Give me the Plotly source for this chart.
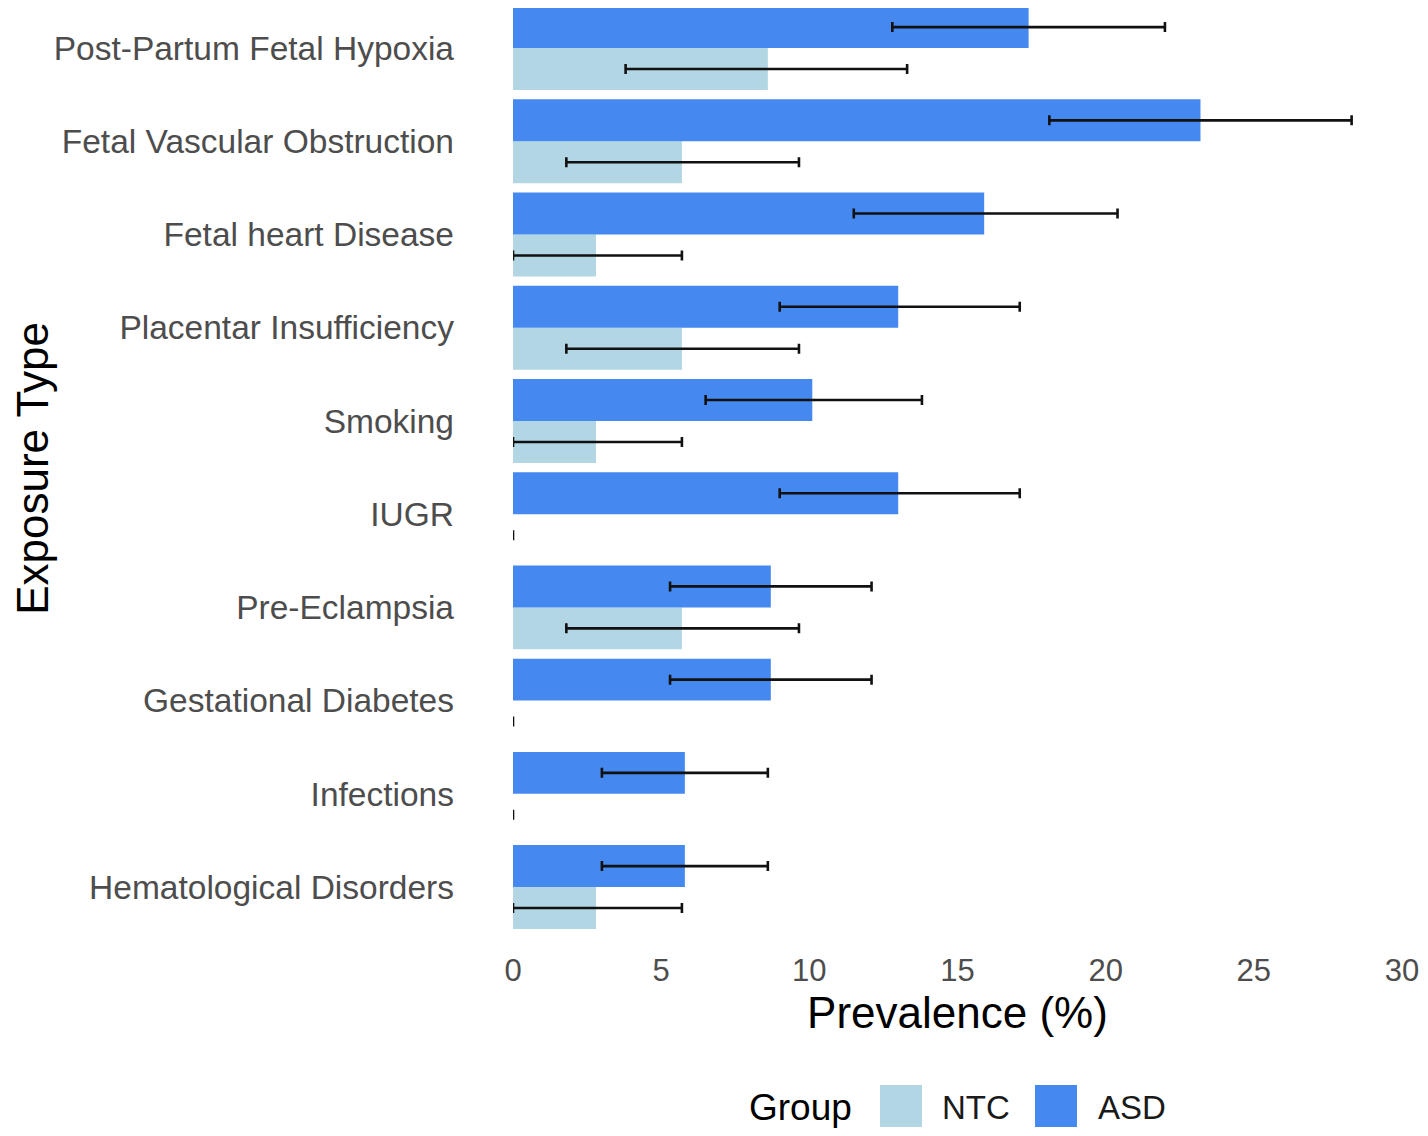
import plotly.graph_objects as go

categories = ["Post-Partum Fetal Hypoxia", "Fetal Vascular Obstruction", "Fetal heart Disease",
              "Placentar Insufficiency", "Smoking", "IUGR", "Pre-Eclampsia",
              "Gestational Diabetes", "Infections", "Hematological Disorders"]
asd = [17.4, 23.2, 15.9, 13.0, 10.1, 13.0, 8.7, 8.7, 5.8, 5.8]
asd_lo = [12.8, 18.1, 11.5, 9.0, 6.5, 9.0, 5.3, 5.3, 3.0, 3.0]
asd_hi = [22.0, 28.3, 20.4, 17.1, 13.8, 17.1, 12.1, 12.1, 8.6, 8.6]
ntc = [8.6, 5.7, 2.8, 5.7, 2.8, 0.0, 5.7, 0.0, 0.0, 2.8]
ntc_lo = [3.8, 1.8, 0.0, 1.8, 0.0, 0.0, 1.8, 0.0, 0.0, 0.0]
ntc_hi = [13.3, 9.65, 5.7, 9.65, 5.7, 0.0, 9.65, 0.0, 0.0, 5.7]
x_ticks = [0, 5, 10, 15, 20, 25, 30]
groups = ["NTC", "ASD"]

FONT = "Liberation Sans, Arial, sans-serif"
C_NTC = "#b2d6e3"
C_ASD = "#4589f0"
OFF = 8  # page offset of the figure inside the browser window
W, H = 1428 - OFF, 1136 - OFF
L, R, T, B = 513 - OFF, 26, 0, 207
PW, PH = W - L - R, H - T - B


def err(v, lo, hi):
    return dict(type="data", symmetric=False,
                array=[h - x for x, h in zip(v, hi)],
                arrayminus=[x - l for x, l in zip(v, lo)],
                color="#111111", thickness=2.6, width=5)


fig = go.Figure()
fig.add_trace(go.Bar(y=categories, x=ntc, orientation="h", name=groups[0],
                     marker=dict(color=C_NTC, line=dict(width=0)),
                     error_x=err(ntc, ntc_lo, ntc_hi), showlegend=False, cliponaxis=False))
fig.add_trace(go.Bar(y=categories, x=asd, orientation="h", name=groups[1],
                     marker=dict(color=C_ASD, line=dict(width=0)),
                     error_x=err(asd, asd_lo, asd_hi), showlegend=False, cliponaxis=False))


def px_x(p):
    return (p - OFF - L) / PW


def px_y(p):
    return (H - B - (p - OFF)) / PH


shapes = [
    dict(type="rect", xref="paper", yref="paper", x0=px_x(880), x1=px_x(922),
         y0=px_y(1127), y1=px_y(1085), fillcolor=C_NTC, line=dict(width=0)),
    dict(type="rect", xref="paper", yref="paper", x0=px_x(1035), x1=px_x(1077),
         y0=px_y(1127), y1=px_y(1085), fillcolor=C_ASD, line=dict(width=0)),
]
annotations = [
    dict(text="Group", xref="paper", yref="paper", x=px_x(747), y=px_y(1107),
         xanchor="left", yanchor="middle", showarrow=False,
         font=dict(family=FONT, size=37, color="#000000")),
    dict(text=groups[0], xref="paper", yref="paper", x=px_x(940), y=px_y(1107),
         xanchor="left", yanchor="middle", showarrow=False,
         font=dict(family=FONT, size=33, color="#1a1a1a")),
    dict(text=groups[1], xref="paper", yref="paper", x=px_x(1096), y=px_y(1107),
         xanchor="left", yanchor="middle", showarrow=False,
         font=dict(family=FONT, size=33, color="#1a1a1a")),
]

fig.update_layout(
    width=W, height=H,
    margin=dict(l=L, r=R, t=T, b=B, pad=0, autoexpand=False),
    paper_bgcolor="white", plot_bgcolor="white",
    barmode="group", bargap=0.1, bargroupgap=0,
    showlegend=False,
    font=dict(family=FONT),
    shapes=shapes, annotations=annotations,
    xaxis=dict(range=[0, 30], tickvals=x_ticks, ticktext=[str(t) for t in x_ticks],
               showgrid=False, zeroline=False, showline=False, ticks="",
               tickfont=dict(family=FONT, size=31, color="#4d4d4d"),
               ticklabelstandoff=20,
               title=dict(text="Prevalence (%)", standoff=8,
                          font=dict(family=FONT, size=44, color="#000000"))),
    yaxis=dict(categoryorder="array", categoryarray=categories[::-1],
               range=[-0.45, 9.43], showgrid=False, zeroline=False, showline=False,
               ticks="", tickfont=dict(family=FONT, size=33.5, color="#4d4d4d"),
               ticklabelstandoff=58, automargin=True,
               title=dict(text="Exposure Type", standoff=12,
                          font=dict(family=FONT, size=44, color="#000000"))),
)

fig.write_html("out.html")
